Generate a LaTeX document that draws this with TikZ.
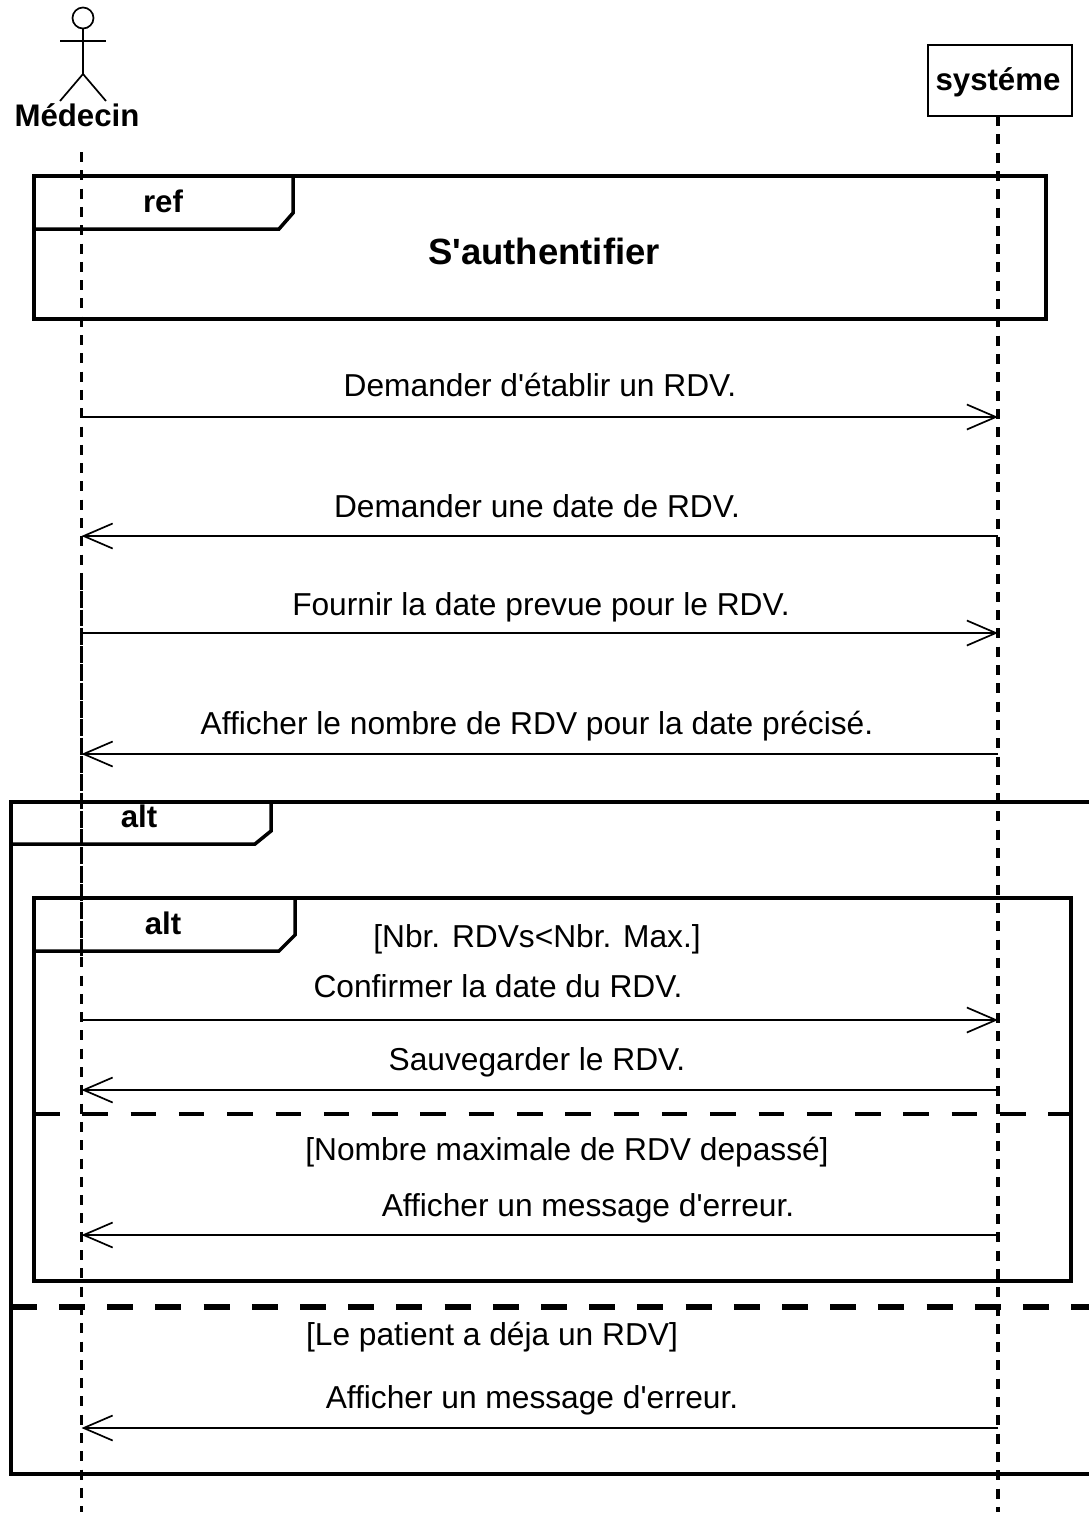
\documentclass[tikz,border=0pt]{standalone}
\usepackage{fontspec}
\setmainfont{Liberation Sans}
\usetikzlibrary{positioning, arrows.meta}
\tikzset{
	arrow/.style={line width=1.7pt, -{Straight Barb[length=29pt, width=25pt]}},
	lifeline/.style={line width=3.6pt, dash pattern=on 10pt off 8.3pt},
	lifelinedense/.style={line width=3.6pt, dash pattern=on 8.3pt off 10pt},
	frame/.style={line width=3.5pt, line join=miter},
	guard/.style={line width=3.5pt, dash pattern=on 25.5pt off 22.8pt},
	guardwide/.style={line width=5.5pt, dash pattern=on 26pt off 22.2pt},
	msg/.style={anchor=base, inner sep=0pt, font=\fontsize{31.7}{31.7}\selectfont},
	tag/.style={anchor=base, inner sep=0pt, font=\fontsize{31.2}{31.2}\selectfont\bfseries},
}
\begin{document}
\begin{tikzpicture}[x=1pt, y=-1pt]
		\useasboundingbox (0,0) rectangle (1088,1519);
		\fill[white] (0,0) rectangle (1088,1519);

		% Actor
		\draw[line width=1.7pt] (83,18) circle (10.5);
		\draw[line width=1.7pt] (83,28) -- (83,74);
		\draw[line width=1.7pt] (60,41) -- (106,41);
		\draw[line width=1.7pt] (60,101) -- (83,74) -- (106,101);
		\node[tag] (Medecin) at (77,126) {Médecin};

		% System box
		\node[draw, line width=1.7pt, minimum width=144pt, minimum height=71pt, inner sep=0pt] (Systeme) at (1000,80.5) {};
		\node[tag] (SystemeT) at (998,90) {systéme};

		% Ref frame
		\draw[frame] (34,176) rectangle (1046,319);
		\draw[frame] (293,176) -- (293,213) -- (279,229) -- (34,229);
		\node[tag] (Ref) at (163,212) {ref};
		\node[tag, font=\fontsize{36.5}{36.5}\selectfont\bfseries] (Auth) at (544,264) {S\textquotesingle authentifier};

		% Outer alt
		\draw[frame] (1095,802) -- (11,802) -- (11,1474) -- (1095,1474);
		\draw[frame] (271,802) -- (271,831) -- (255,844) -- (11,844);
		\node[tag] (AltA) at (139,827) {alt};
		\draw[guardwide] (10.8,1307) -- (1095,1307);
		\node[msg] (G3) at (492,1345) {[Le patient a déja un RDV]};

		% Inner alt
		\draw[frame] (34,898) rectangle (1071,1281);
		\draw[frame] (295,898) -- (295,935) -- (279,951) -- (34,951);
		\node[tag] (AltB) at (163,934) {alt};
		\draw[guard] (34,1114) -- (1071,1114);
		\node[msg] (G1) at (537,947) {[Nbr. RDVs<Nbr. Max.]};
		\node[msg] (G2) at (567,1160) {[Nombre maximale de RDV depassé]};

		% Lifelines
		\coordinate (LA) at (81.5,152);
		\coordinate (LB) at (81.5,1512);
		\coordinate (LC) at (81.5,581.5);
		\coordinate (LD) at (81.5,960);
		\coordinate (RA) at (998,116);
		\coordinate (RB) at (998,1512);
		\draw[lifeline] (LA) -- (LB);
		\draw[lifelinedense] (LC) -- (LD);
		\draw[lifeline] (RA) -- (RB);

		% Messages
		\coordinate (A1) at (81.5,417);   \coordinate (B1) at (998,417);
		\coordinate (A2) at (81.5,536);   \coordinate (B2) at (998,536);
		\coordinate (A3) at (81.5,633);   \coordinate (B3) at (998,633);
		\coordinate (A4) at (81.5,754);   \coordinate (B4) at (998,754);
		\coordinate (A5) at (81.5,1020);  \coordinate (B5) at (998,1020);
		\coordinate (A6) at (81.5,1090);  \coordinate (B6) at (998,1090);
		\coordinate (A7) at (81.5,1235);  \coordinate (B7) at (998,1235);
		\coordinate (A8) at (81.5,1428);  \coordinate (B8) at (998,1428);

		\draw[arrow] (A1) -- (B1);
		\draw[arrow] (B2) -- (A2);
		\draw[arrow] (A3) -- (B3);
		\draw[arrow] (B4) -- (A4);
		\draw[arrow] (A5) -- (B5);
		\draw[arrow] (B6) -- (A6);
		\draw[arrow] (B7) -- (A7);
		\draw[arrow] (B8) -- (A8);

		\node[msg] (M1) at (540,396) {Demander d\textquotesingle établir un RDV.};
		\node[msg] (M2) at (537,517) {Demander une date de RDV.};
		\node[msg] (M3) at (541,615) {Fournir la date prevue pour le RDV.};
		\node[msg] (M4) at (537,734) {Afficher le nombre de RDV pour la date précisé.};
		\node[msg] (M5) at (498,997) {Confirmer la date du RDV.};
		\node[msg] (M6) at (537,1070) {Sauvegarder le RDV.};
		\node[msg] (M7) at (588,1216) {Afficher un message d\textquotesingle erreur.};
		\node[msg] (M8) at (532,1408) {Afficher un message d\textquotesingle erreur.};
	\end{tikzpicture}
\end{document}
